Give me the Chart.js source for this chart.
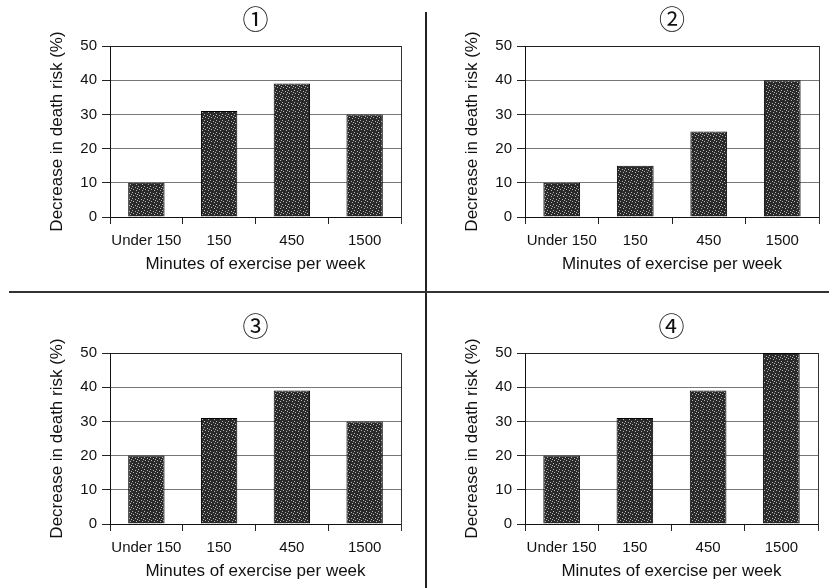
<!DOCTYPE html>
<html>
<head>
<meta charset="utf-8">
<script src="https://cdn.jsdelivr.net/npm/chart.js@4.4.1/dist/chart.umd.min.js"></script>
<style>
  body { margin: 0; background: #fff; width: 829px; height: 588px; position: relative; overflow: hidden; }
  .box { position: absolute; width: 415px; height: 290px; }
  .vline { position: absolute; left: 425px; top: 12px; width: 2px; height: 576px; background: #222; }
  .hline { position: absolute; left: 9px; top: 291px; width: 820px; height: 2px; background: #333; }
</style>
</head>
<body>
<div class="vline"></div>
<div class="hline"></div>
<div class="box" style="left:0px;top:0px"><canvas id="g1"></canvas></div>
<div class="box" style="left:415px;top:0px"><canvas id="g2"></canvas></div>
<div class="box" style="left:0px;top:307px"><canvas id="g3"></canvas></div>
<div class="box" style="left:415px;top:307px"><canvas id="g4"></canvas></div>
<script>
// ---------------- datos de las graficas ----------------
var categorias = ['Under 150', '150', '450', '1500'];
var valores1 = [10, 31, 39, 30];
var valores2 = [10, 15, 25, 40];
var valores3 = [20, 31, 39, 30];
var valores4 = [20, 31, 39, 50];
var titulos = ['\u2460', '\u2461', '\u2462', '\u2463'];
var ticksY = [0, 10, 20, 30, 40, 50];
var tituloX = 'Minutes of exercise per week';
var tituloY = 'Decrease in death risk (%)';

// textura punteada de las barras
function trama() {
    var c = document.createElement('canvas');
    c.width = 6; c.height = 6;
    var ctx = c.getContext('2d');
    ctx.fillStyle = '#2a2a2a';
    ctx.fillRect(0, 0, 6, 6);
    ctx.fillStyle = '#b4b4b4';
    var puntos = [[0,0],[3,1],[1,3],[4,4],[5,2]];
    for (var i = 0; i < puntos.length; i++) {
        ctx.fillRect(puntos[i][0], puntos[i][1], 1, 1);
    }
    return document.createElement('canvas').getContext('2d').createPattern(c, 'repeat');
}

// borde derecho del area de la grafica
var bordeDerecho = {
    id: 'bordeDerecho',
    afterDraw: function(chart) {
        var a = chart.chartArea, ctx = chart.ctx;
        ctx.save();
        ctx.strokeStyle = '#333';
        ctx.lineWidth = 1;
        ctx.beginPath();
        ctx.moveTo(a.right + 0.5, a.top);
        ctx.lineTo(a.right + 0.5, a.bottom + 7);
        ctx.stroke();
        ctx.restore();
    }
};

Chart.defaults.font.family = "'Liberation Sans', Arial, sans-serif";
Chart.defaults.color = '#111';

function dibujar(id, valores, titulo, derecha) {
    var c = document.getElementById(id);
    var patron = trama();
    var data = {
        labels: categorias,
        datasets: [{
            data: valores,
            backgroundColor: patron,
            borderColor: '#000',
            borderWidth: 1,
            categoryPercentage: 1,
            barPercentage: 0.5
        }]
    };
    var config = {
        type: 'bar',
        data: data,
        plugins: [bordeDerecho],
        options: {
            responsive: false,
            animation: false,
            devicePixelRatio: 1,
            layout: { padding: { left: 47, right: derecha, top: 0, bottom: 13 } },
            plugins: {
                legend: false,
                tooltip: { enabled: false },
                title: {
                    display: true,
                    text: titulo,
                    fullSize: false,
                    color: '#111',
                    font: { family: "'DejaVu Serif', 'Noto Sans CJK JP', serif", size: 26, weight: 'normal', lineHeight: 1 },
                    padding: { top: 9, bottom: 11 }
                }
            },
            scales: {
                x: {
                    afterFit: function(s) { s.height = 60; },
                    grid: { offset: true, drawOnChartArea: false, drawTicks: true, tickLength: 7, tickColor: '#222' },
                    border: { color: '#111', width: 1 },
                    ticks: { font: { size: 15 }, padding: 8, color: '#111', maxRotation: 0, autoSkip: false },
                    title: { display: true, text: tituloX, font: { size: 17 }, padding: { top: 0, bottom: 2 }, color: '#111' }
                },
                y: {
                    min: 0,
                    max: 50,
                    afterFit: function(s) { s.width = 63; },
                    afterBuildTicks: function(s) { s.ticks = ticksY.map(function(v) { return { value: v }; }); },
                    grid: {
                        color: function(ctx) { return ctx.tick && ctx.tick.value === 50 ? '#222' : '#777'; },
                        drawTicks: true, tickLength: 8, tickColor: '#222'
                    },
                    border: { color: '#111', width: 1 },
                    ticks: { font: { size: 15 }, padding: 5, color: '#111' },
                    title: { display: true, text: tituloY, font: { size: 17 }, padding: { top: 0, bottom: 0 }, color: '#111' }
                }
            }
        }
    };
    c.width = 415;
    c.height = 290;
    return new Chart(c, config);
}

dibujar('g1', valores1, titulos[0], 14);
dibujar('g2', valores2, titulos[1], 11);
dibujar('g3', valores3, titulos[2], 14);
dibujar('g4', valores4, titulos[3], 12);
</script>
</body>
</html>
